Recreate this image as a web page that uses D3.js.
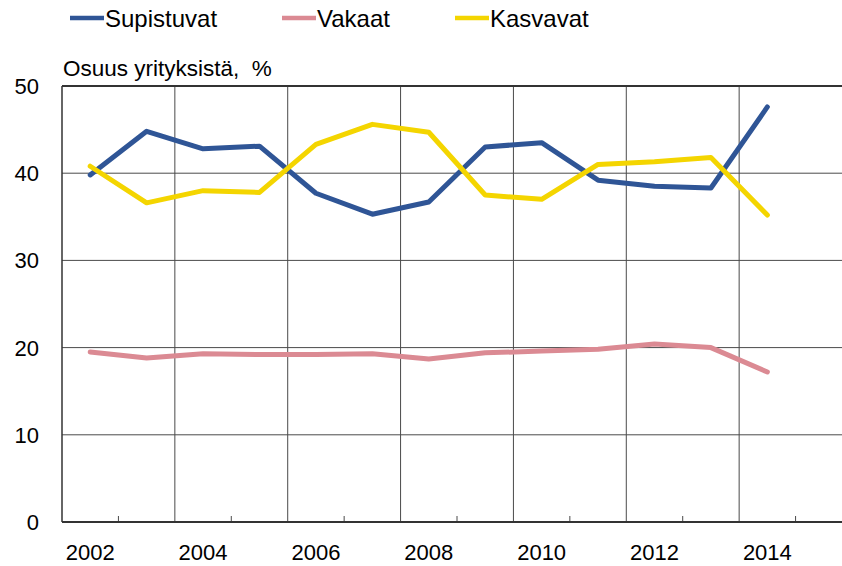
<!DOCTYPE html>
<html><head><meta charset="utf-8">
<script src="https://cdn.jsdelivr.net/npm/d3@7"></script>
<style>body{margin:0;background:#fff;} svg{display:block;} text{font-family:"Liberation Sans",Arial,sans-serif;fill:#000;}</style>
</head><body>
<svg id="c" width="842" height="566"></svg>
<script>
const years = [2002,2003,2004,2005,2006,2007,2008,2009,2010,2011,2012,2013,2014,2015];
const dataYears = [2002,2003,2004,2005,2006,2007,2008,2009,2010,2011,2012,2013,2014];
const supistuvat = [39.8,44.8,42.8,43.1,37.7,35.3,36.7,43.0,43.5,39.2,38.5,38.3,47.6];
const vakaat = [19.5,18.8,19.3,19.2,19.2,19.3,18.7,19.4,19.6,19.8,20.4,20.0,17.2];
const kasvavat = [40.8,36.6,38.0,37.8,43.3,45.6,44.7,37.5,37.0,41.0,41.3,41.8,35.2];
const yTicks = [0,10,20,30,40,50];
const xLabels = [2002,2004,2006,2008,2010,2012,2014];
const seriesNames = ["Supistuvat","Vakaat","Kasvavat"];
const colors = ["#2f5596","#db8a93","#f4d500"];

(function(){
const svg = d3.select("#c");
const pL = 62, pR = 852, pT = 86, pB = 522;
const x = d3.scaleBand().domain(years).range([pL, pR]).padding(0);
const y = d3.scaleLinear().domain([0,50]).range([pB, pT]);

svg.append("g").selectAll("line").data(yTicks.filter(d => d>0 && d<50)).join("line")
  .attr("x1", pL).attr("x2", 842).attr("y1", d=>y(d)).attr("y2", d=>y(d))
  .attr("stroke","#4a4a4a").attr("stroke-width",1);
const vb = years.filter(yy => yy%2===0 && yy>2002);
svg.append("g").selectAll("line").data(vb).join("line")
  .attr("x1", d=>x(d)).attr("x2", d=>x(d)).attr("y1", pT).attr("y2", pB)
  .attr("stroke","#4a4a4a").attr("stroke-width",1);
const mb = years.filter(yy => yy%2===1);
svg.append("g").selectAll("line").data(mb).join("line")
  .attr("x1", d=>x(d)).attr("x2", d=>x(d)).attr("y1", pB-6).attr("y2", pB)
  .attr("stroke","#4a4a4a").attr("stroke-width",1);
svg.append("line").attr("x1",pL).attr("x2",842).attr("y1",y(50)).attr("y2",y(50)).attr("stroke","#333").attr("stroke-width",2);
svg.append("line").attr("x1",pL).attr("x2",842).attr("y1",y(0)).attr("y2",y(0)).attr("stroke","#333").attr("stroke-width",2);
svg.append("line").attr("x1",pL).attr("x2",pL).attr("y1",pT).attr("y2",pB).attr("stroke","#333").attr("stroke-width",1.5);

svg.append("g").selectAll("text").data(yTicks).join("text")
  .attr("x", 39).attr("y", d=>y(d)).attr("dy","0.36em").attr("text-anchor","end")
  .attr("font-size",22).text(d=>d);
svg.append("g").selectAll("text").data(xLabels).join("text")
  .attr("x", d=>x(d)+x.bandwidth()/2).attr("y", 560).attr("text-anchor","middle")
  .attr("font-size",22).text(d=>d);

svg.append("text").attr("x",63).attr("y",76).attr("font-size",22.5).attr("xml:space","preserve").text("Osuus yrityksistä,  %");

const allSeries = [supistuvat, vakaat, kasvavat];
const line = d3.line().x((d,i)=>x(dataYears[i])+x.bandwidth()/2).y(d=>y(d));
allSeries.forEach((s,k)=>{
  svg.append("path").datum(s).attr("d",line).attr("fill","none")
    .attr("stroke",colors[k]).attr("stroke-width",5).attr("stroke-linejoin","round").attr("stroke-linecap","round");
});

const legX = [70,282,455];
seriesNames.forEach((n,k)=>{
  const g = svg.append("g");
  g.append("line").attr("x1",legX[k]).attr("x2",legX[k]+34).attr("y1",18).attr("y2",18)
    .attr("stroke",colors[k]).attr("stroke-width",4.5);
  g.append("text").attr("x",legX[k]+35).attr("y",27).attr("font-size",24).text(n);
});
})();
</script>
</body></html>
